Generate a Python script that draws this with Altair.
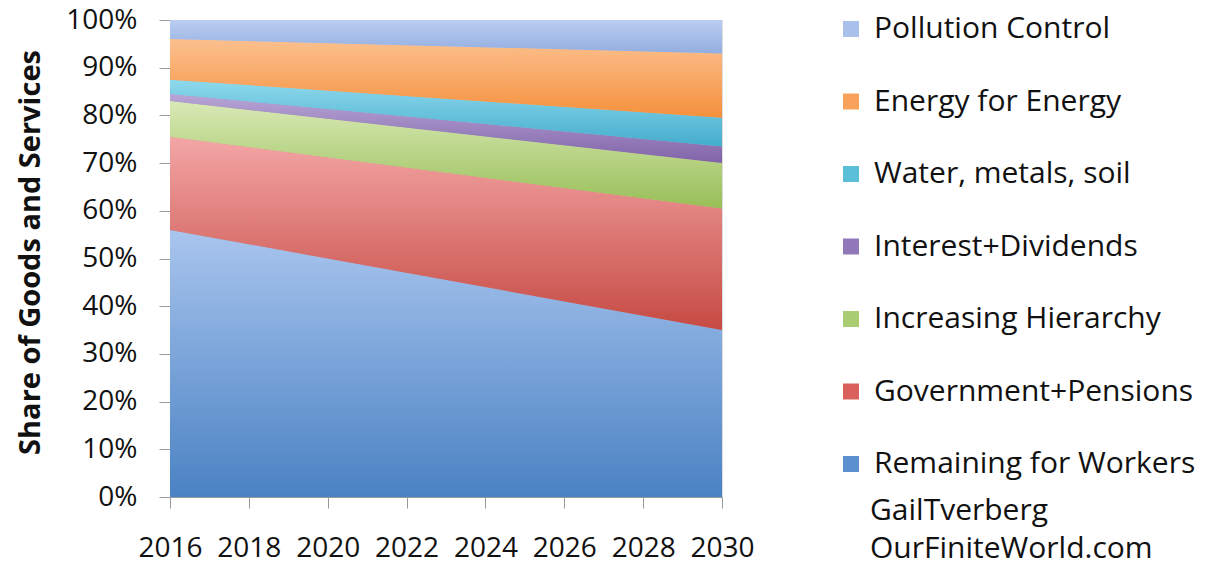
import altair as alt
import pandas as pd

# Projected split of goods and services, 2016 vs 2030 (percent of total)
years = [2016, 2030]
series = [
    "Remaining for Workers",
    "Government+Pensions",
    "Increasing Hierarchy",
    "Interest+Dividends",
    "Water, metals, soil",
    "Energy for Energy",
    "Pollution Control",
]
share_2016 = [56, 19.5, 7.5, 1.5, 3, 8.5, 4]
share_2030 = [35, 25.5, 9.5, 3.5, 6, 13.5, 7]

# gradient stops per series (top colour, bottom colour) and legend swatch colour
grad_top = ["#a9c5ee", "#f3a6a6", "#d9e9b6", "#b8a6d6", "#8fd9ec", "#fbc08e", "#bacef1"]
grad_bottom = ["#4a82c3", "#c64a43", "#98bf57", "#8063a8", "#44adcd", "#f5903c", "#92ade0"]
swatch = ["#5b8fd0", "#d9605b", "#a9cb72", "#9178b8", "#5cbfd9", "#f8a25c", "#a9c0ea"]

legend_order = series[::-1]
legend_colors = swatch[::-1]

rows = []
for i, name in enumerate(series):
    rows.append({"year": years[0], "series": name, "order": i, "value": share_2016[i]})
    rows.append({"year": years[1], "series": name, "order": i, "value": share_2030[i]})
df = pd.DataFrame(rows)

FONT = "Open Sans"
INK = "#111111"

x_enc = alt.X(
    "year:Q",
    scale=alt.Scale(domain=[2016, 2030], nice=False, zero=False),
    axis=alt.Axis(
        values=list(range(2016, 2031)),
        labelExpr="datum.value % 2 == 0 ? datum.value : ''",
        title=None,
        grid=False,
        tickSize=11,
        labelPadding=26,
        labelFontSize=28,
        labelFont=FONT,
        labelColor=INK,
        domainColor="#9a9a9a",
        tickColor="#9a9a9a",
        labelOverlap=False,
        labelFlush=False,
    ),
)

y_axis = alt.Axis(
    values=list(range(0, 101, 10)),
    labelExpr="datum.value + '%'",
    title="Share of Goods and Services",
    titleFont=FONT,
    titleFontSize=29,
    titleFontWeight="bold",
    titleColor=INK,
    titleAngle=-90,
    titleX=-140,
    titleY=232,
    titleAlign="center",
    titleBaseline="middle",
    grid=False,
    tickSize=11,
    labelPadding=22,
    labelFontSize=28,
    labelFont=FONT,
    labelColor=INK,
    domainColor="#9a9a9a",
    tickColor="#9a9a9a",
)

base = alt.Chart(df).transform_stack(
    stack="value",
    groupby=["year"],
    as_=["lo", "hi"],
    sort=[alt.SortField("order", order="ascending")],
)

# solid stacked bands, which also carry the legend
solid = base.mark_area(line=False).encode(
    x=x_enc,
    y=alt.Y("hi:Q", scale=alt.Scale(domain=[0, 100], nice=False), axis=y_axis),
    y2="lo:Q",
    color=alt.Color(
        "series:N",
        scale=alt.Scale(domain=legend_order, range=legend_colors),
        legend=alt.Legend(
            title=None,
            orient="none",
            legendX=666,
            legendY=-6,
            symbolType="square",
            symbolSize=256,
            symbolStrokeWidth=0,
            labelFontSize=30,
            labelFont=FONT,
            labelColor=INK,
            labelOffset=8,
            rowPadding=42.5,
            padding=0,
            labelLimit=400,
        ),
    ),
    order="order:Q",
)

# each band repainted with its own vertical gradient
shaded = []
for i, name in enumerate(series):
    grad = alt.Gradient(
        gradient="linear",
        x1=0, y1=0, x2=0, y2=1,
        stops=[
            alt.GradientStop(color=grad_top[i], offset=0),
            alt.GradientStop(color=grad_bottom[i], offset=1),
        ],
    )
    shaded.append(
        base.transform_filter(alt.datum.series == name)
        .mark_area(color=grad, line=False)
        .encode(x="year:Q", y="hi:Q", y2="lo:Q")
    )

credit1 = alt.Chart(pd.DataFrame({"t": ["GailTverberg"]})).mark_text(
    align="left", baseline="middle", fontSize=30, font=FONT, color=INK
).encode(x=alt.value(700), y=alt.value(491), text="t:N")
credit2 = alt.Chart(pd.DataFrame({"t": ["OurFiniteWorld.com"]})).mark_text(
    align="left", baseline="middle", fontSize=30, font=FONT, color=INK
).encode(x=alt.value(700), y=alt.value(529), text="t:N")

chart = alt.layer(solid, *shaded, credit1, credit2).properties(
    width=552,
    height=477,
    autosize=alt.AutoSizeParams(type="none"),
    padding={"left": 170, "top": 20, "right": 493, "bottom": 69},
).configure_view(stroke=None).configure(background="white")

chart.save("out.html", embed_options={"renderer": "svg", "actions": False})
